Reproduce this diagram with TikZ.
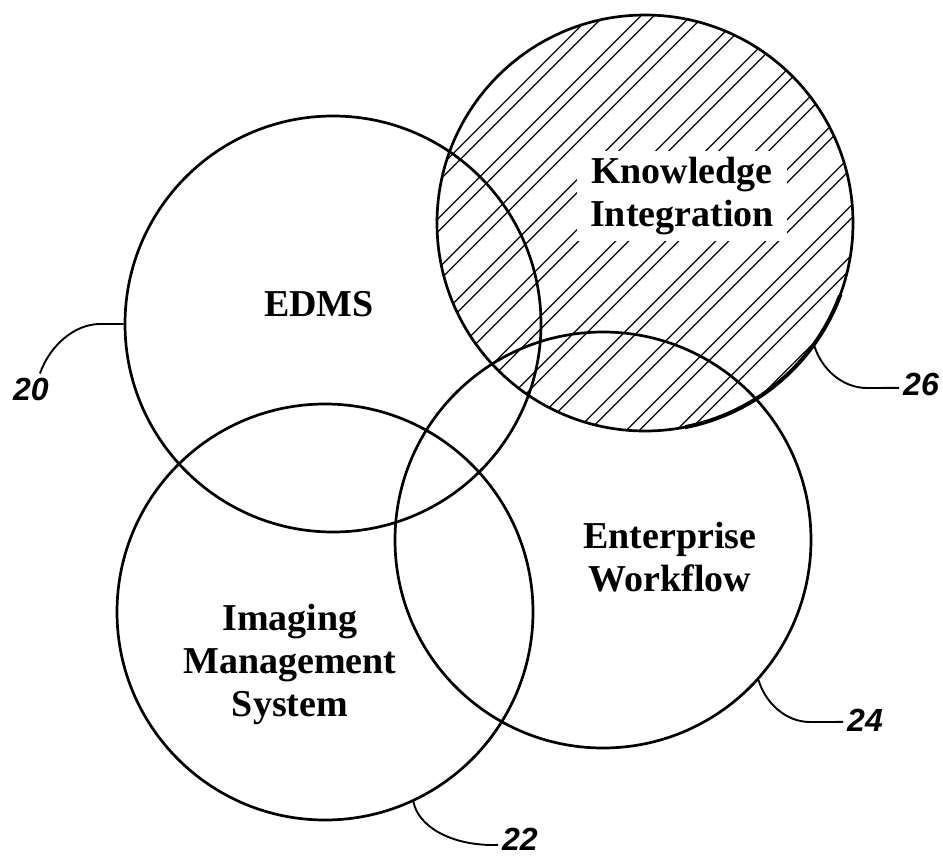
\documentclass[tikz,border=0pt]{standalone}
\usepackage{fontspec}
\setmainfont{Liberation Serif}
\newfontfamily\labelfont{Liberation Sans}
\begin{document}
\begin{tikzpicture}[x=1pt,y=-1pt,
  ring/.style={circle, draw, line width=2.7pt, minimum size=416pt, inner sep=0pt},
  title/.style={font=\fontsize{38}{43}\selectfont\bfseries, align=center, inner sep=0pt},
  refnum/.style={font=\labelfont\fontsize{32}{32}\selectfont\bfseries\itshape, inner sep=4pt},
  leader/.style={line width=1.9pt},
  hatch/.style={line width=1.3pt}]
\useasboundingbox (0,0) rectangle (943,857);
% hatching of circle 26
\begin{scope}
  \clip (645,223) circle[radius=208pt];
  \foreach \k in {0,...,11} {
    \draw[hatch] ({606.7+50*\k},0) -- ({106.7+50*\k},500);
    \draw[hatch] ({619.7+50*\k},0) -- ({119.7+50*\k},500);
  }
\end{scope}
% circles
\node[ring] (c20) at (333,324) {};
\node[ring] (c22) at (325,612) {};
\node[ring] (c24) at (603,540) {};
\node[ring] (c26) at (645,223) {};
\begin{scope}
  \clip (685,295) rectangle (900,460);
  \draw[line width=4pt] (645,223) circle[radius=208pt];
\end{scope}
% titles
\node[title] (t20) at (319,304) {EDMS};
\node[title, fill=white, inner xsep=13pt, inner ysep=6pt] (t26) at (682,196) {Knowledge\\Integration};
\node[title] (t24) at (670,557) {Enterprise\\Workflow};
\node[title] (t22) at (290,664) {Imaging\\Management\\System};
% reference numerals
\node[refnum] (l20) at (31,389) {20};
\node[refnum] (l22) at (520,839) {22};
\node[refnum] (l24) at (865,720) {24};
\node[refnum] (l26) at (921,384) {26};
% leaders
\draw[leader] (c20.west) -- (100,324) .. controls (75,324) and (50,345) .. (l20.60);
\draw[leader] (c22.-65.3) .. controls (418,826) and (450,845) .. (493,845) -- (l22.195);
\draw[leader] (c24.-42.6) .. controls (765,702) and (785,722) .. (810,722) -- (l24.185);
\draw[leader] (c26.-36.4) .. controls (822,370) and (843,388) .. (867,388) -- (l26.190);
\end{tikzpicture}
\end{document}
